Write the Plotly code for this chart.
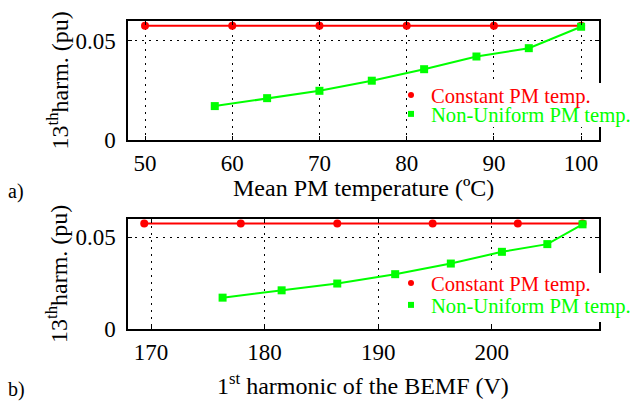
import plotly.graph_objects as go

# ---- data ----
temp_const = [50, 60, 70, 80, 90, 100]
harm_const_a = [0.0576, 0.0576, 0.0576, 0.0576, 0.0576, 0.0576]
temp_nonuni = [58, 64, 70, 76, 82, 88, 94, 100]
harm_nonuni = [0.0171, 0.0211, 0.0248, 0.0299, 0.0357, 0.0421, 0.0463, 0.0571]

bemf_const = [169.4, 177.9, 186.4, 194.8, 202.3, 208.0]
harm_const_b = [0.0576, 0.0576, 0.0576, 0.0576, 0.0576, 0.0576]
bemf_nonuni = [176.3, 181.5, 186.4, 191.5, 196.4, 200.9, 204.9, 208.0]

xticks_a = [50, 60, 70, 80, 90, 100]
xticks_b = [170, 180, 190, 200]
yticks = [0, 0.05]
ytick_text = ["0", "0.05"]
legend_names = ["Constant PM temp.", "Non-Uniform PM temp."]

RED = "#ff0000"
GREEN = "#00ff00"
FONT = "Liberation Serif"

fig = go.Figure()

def add_panel(xc, yc, xn, yn, xa, ya, leg_red, leg_green):
    fig.add_trace(go.Scatter(x=xc, y=yc, mode="lines+markers", xaxis=xa, yaxis=ya,
                             line=dict(color=RED, width=2),
                             marker=dict(symbol="circle", size=8, color=RED),
                             showlegend=False, hoverinfo="skip"))
    fig.add_trace(go.Scatter(x=xn, y=yn, mode="lines+markers", xaxis=xa, yaxis=ya,
                             line=dict(color=GREEN, width=2),
                             marker=dict(symbol="square", size=8, color=GREEN),
                             showlegend=False, hoverinfo="skip"))
    # legend-only entries (marker symbol only, as in the reference)
    fig.add_trace(go.Scatter(x=[None], y=[None], mode="markers", xaxis=xa, yaxis=ya,
                             marker=dict(symbol="circle", size=6, color=RED),
                             name=f"<span style='color:{RED}'>{legend_names[0]}</span>",
                             legend=leg_red))
    fig.add_trace(go.Scatter(x=[None], y=[None], mode="markers", xaxis=xa, yaxis=ya,
                             marker=dict(symbol="square", size=6, color=GREEN),
                             name=f"<span style='color:{GREEN}'>{legend_names[1]}</span>",
                             legend=leg_green))

add_panel(temp_const, harm_const_a, temp_nonuni, harm_nonuni, "x", "y", "legend", "legend2")
add_panel(bemf_const, harm_const_b, bemf_nonuni, harm_nonuni, "x2", "y2", "legend3", "legend4")

W, H = 633, 401
xdom = [128 / W, 599 / W]
ydom_a = [1 - 140 / H, 1 - 21 / H]
ydom_b = [1 - 329 / H, 1 - 219 / H]

axis_common = dict(showline=True, linecolor="black", linewidth=1.5, mirror="ticks",
                   ticks="inside", ticklen=4, tickcolor="black", tickwidth=1,
                   showgrid=True, gridcolor="black", gridwidth=1, griddash="2px,5px",
                   zeroline=False, tickfont=dict(family=FONT, size=23, color="black"),
                   automargin=False)

def leg(ypx):
    return dict(x=391 / W, y=1 - ypx / H, xanchor="left", yanchor="middle",
                bgcolor="rgba(0,0,0,0)", borderwidth=0,
                font=dict(family=FONT, size=20.6), tracegroupgap=0)

fig.update_layout(
    width=W, height=H,
    margin=dict(l=0, r=0, t=0, b=0, autoexpand=False),
    paper_bgcolor="white", plot_bgcolor="white",
    font=dict(family=FONT, color="black"),
    xaxis=dict(domain=xdom, anchor="y", range=[48.05, 102.05], tickvals=xticks_a,
               ticklabelstandoff=2, **axis_common),
    yaxis=dict(domain=ydom_a, anchor="x", range=[0, 0.06], tickvals=yticks,
               ticktext=ytick_text, ticklabelstandoff=6, **axis_common),
    xaxis2=dict(domain=xdom, anchor="y2", range=[167.97, 209.45], tickvals=xticks_b,
                ticklabelstandoff=2, **axis_common),
    yaxis2=dict(domain=ydom_b, anchor="x2", range=[0, 0.06], tickvals=yticks,
                ticktext=ytick_text, ticklabelstandoff=6, **axis_common),
    legend=leg(95), legend2=leg(114), legend3=leg(283), legend4=leg(305),
    showlegend=True,
)

# white legend background boxes (hide grid/frame behind the legend as in the reference)
for y0, y1 in [(83, 127), (273, 322)]:
    fig.add_shape(type="rect", xref="paper", yref="paper", layer="above",
                  x0=413 / W, x1=1, y0=1 - y1 / H, y1=1 - y0 / H,
                  fillcolor="white", line=dict(width=0))

ann_font = dict(family=FONT, size=24, color="black")
annotations = [
    dict(text="13<sup>th</sup>harm. (pu)", x=57 / W, y=1 - 80.5 / H, textangle=-90),
    dict(text="13<sup>th</sup>harm. (pu)", x=57 / W, y=1 - 274 / H, textangle=-90),
    dict(text="Mean PM temperature (ºC)", x=363.5 / W, y=1 - 188 / H),
    dict(text="1<sup>st</sup> harmonic of the BEMF (V)", x=363.5 / W, y=1 - 384 / H),
    dict(text="a)", x=16 / W, y=1 - 191 / H, font=dict(family=FONT, size=20, color="black")),
    dict(text="b)", x=16 / W, y=1 - 389 / H, font=dict(family=FONT, size=20, color="black")),
]
for a in annotations:
    a.setdefault("font", ann_font)
    fig.add_annotation(xref="paper", yref="paper", showarrow=False,
                       xanchor="center", yanchor="middle", **a)

fig.write_html("out.html", config={"displayModeBar": False},
               post_script="document.body.style.margin='0px';document.body.style.overflow='hidden';")
